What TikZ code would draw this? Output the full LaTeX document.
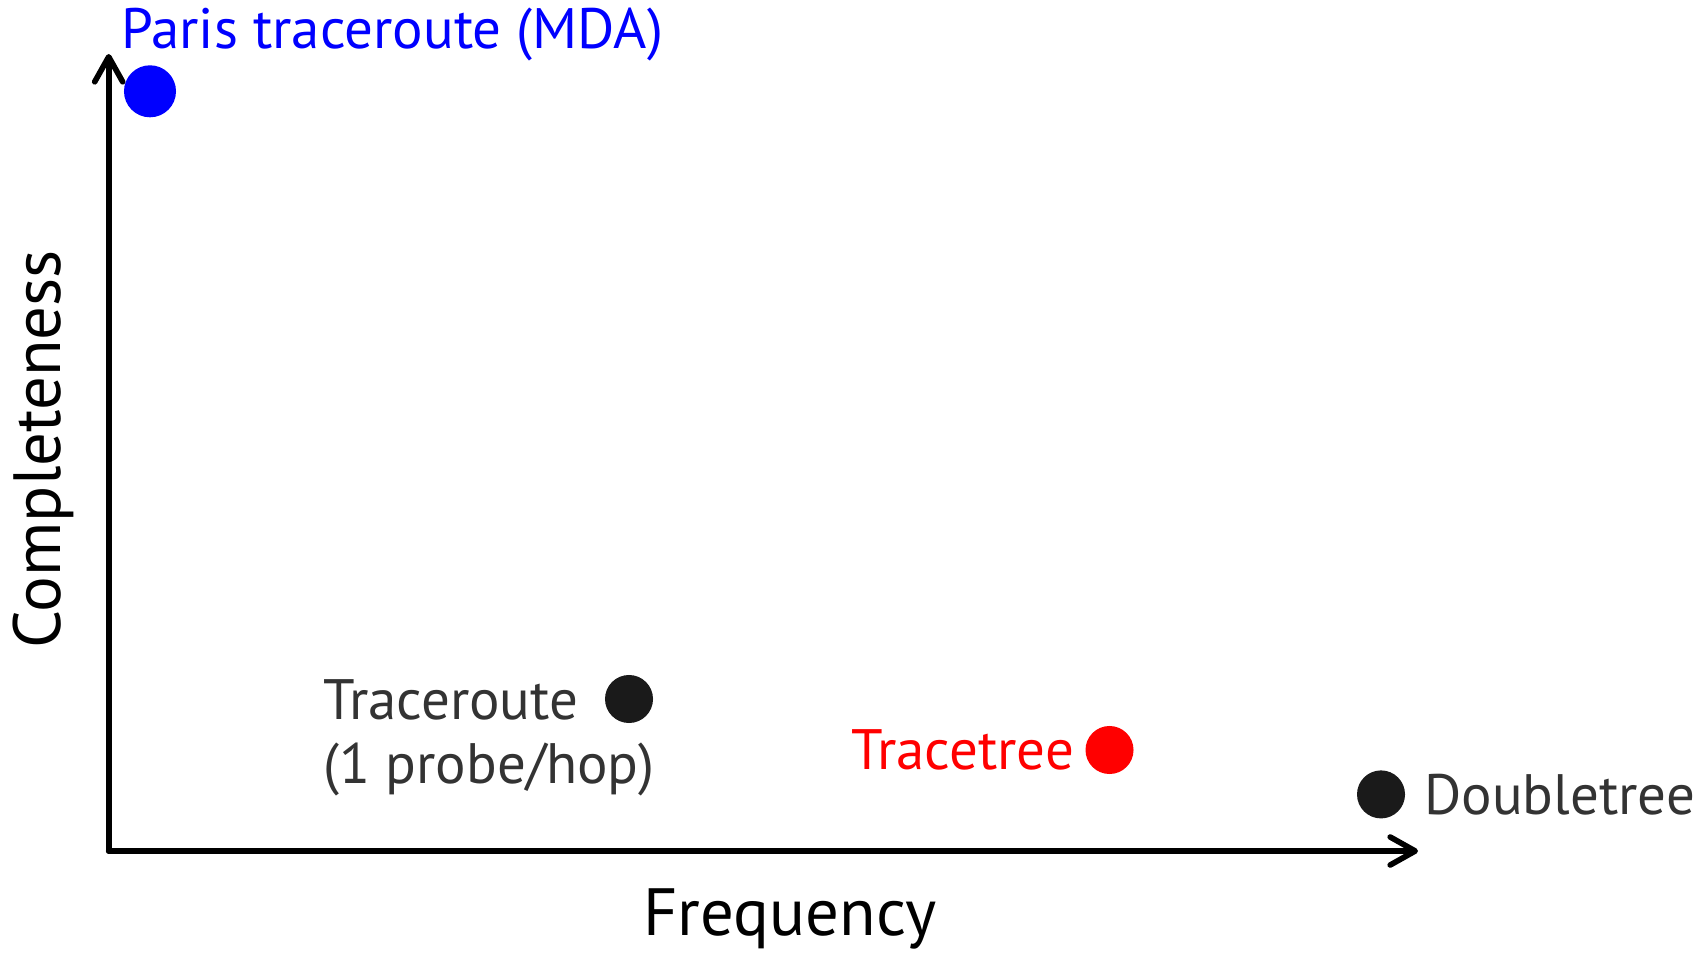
\documentclass[tikz,border=0pt]{standalone}
\usepackage{fontspec}
\setmainfont{PT Sans}
\usetikzlibrary{positioning,arrows.meta}
\definecolor{txtgray}{HTML}{333333}
\definecolor{dotblack}{HTML}{1A1A1A}
\tikzset{
  dot/.style={circle,fill=#1,inner sep=0pt,minimum size=0.48cm},
  lbl/.style={inner sep=0pt,text=txtgray,font=\fontsize{16.2}{18.3}\selectfont},
  axislbl/.style={inner sep=0pt,text=black,font=\fontsize{19}{22}\selectfont},
  axis/.style={line width=1.6pt,line cap=round,-{Straight Barb[length=2.5mm,width=2.8mm,round]}}
}

\begin{document}
\begin{tikzpicture}[x=0.01cm,y=-0.01cm]
        \useasboundingbox (0,0) rectangle (1704,952);
        \coordinate (origin) at (108.7,851);
        \coordinate (xend) at (1418,851);
        \coordinate (yend) at (108.7,54);
        \draw[axis] (origin) -- (xend);
        \draw[axis] (origin) -- (yend);

        \node[axislbl] (freq) at (790,919) {Frequency};
        \node[axislbl,rotate=90] (compl) at (43,449) {Completeness};

        \node[dot=blue,minimum size=0.52cm] (mdadot) at (150,91.3) {};
        \node[lbl,text=blue,anchor=base west] (mda) at (120.6,49) {Paris traceroute (MDA)};

        \node[dot=dotblack] (trdot) at (629,699) {};
        \node[lbl,align=left,anchor=west] (tr) at (322.7,738) {Traceroute\\(1 probe/hop)};

        \node[dot=red] (ttdot) at (1109.5,750) {};
        \node[lbl,text=red,left=0.1cm of ttdot] (tt) {Tracetree};

        \node[dot=dotblack] (dtdot) at (1381,794.4) {};
        \node[lbl,right=0.18cm of dtdot] (dt) {Doubletree};
\end{tikzpicture}
\end{document}
